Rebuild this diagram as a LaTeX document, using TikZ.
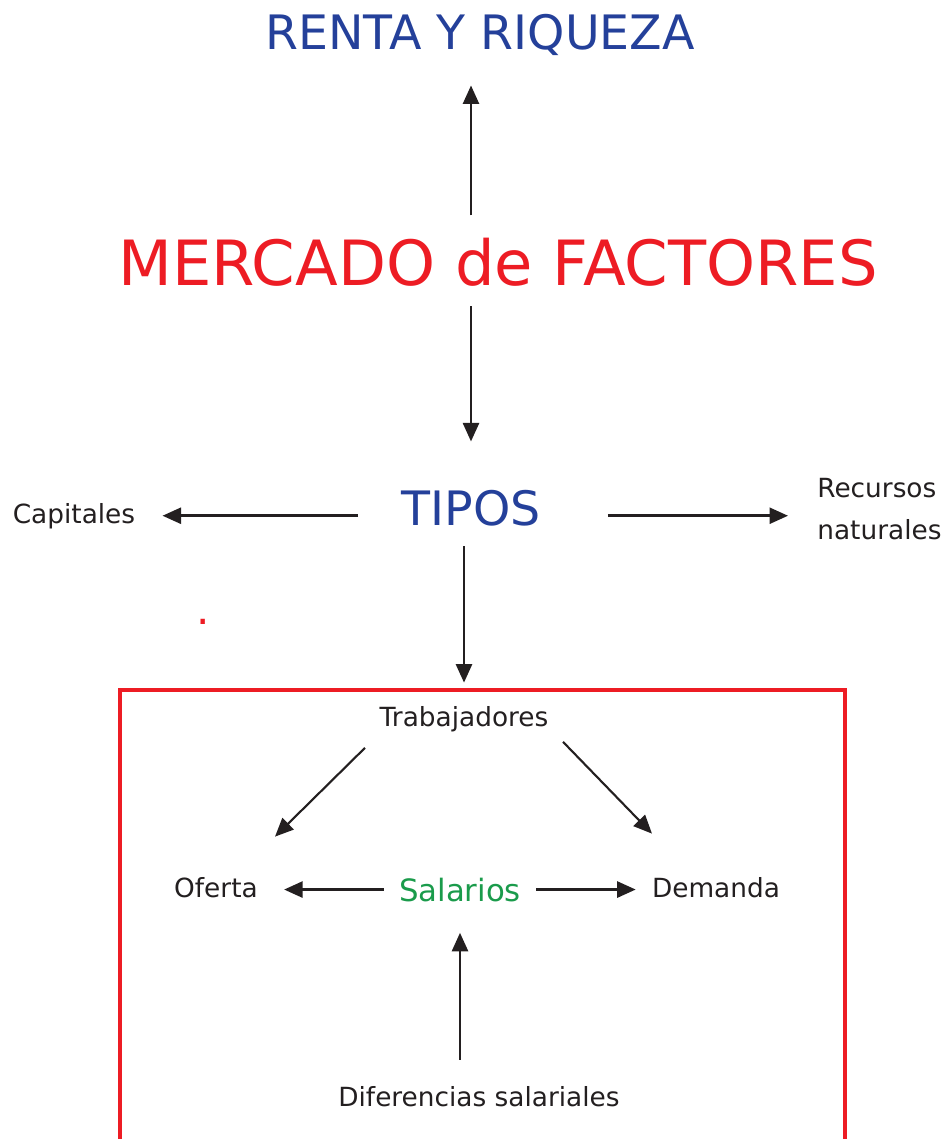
\documentclass[tikz,border=0pt]{standalone}
\usepackage{fontspec}
\setmainfont{DejaVu Sans}
\usetikzlibrary{arrows.meta, positioning, calc}
\definecolor{mfRed}{HTML}{ED1C24}
\definecolor{mfBlue}{HTML}{24409A}
\definecolor{mfGreen}{HTML}{1A9B4B}
\definecolor{mfText}{HTML}{231F20}

\begin{document}
\begin{tikzpicture}[x=0.02cm, y=-0.02cm,
    lbl/.style={inner sep=0pt, anchor=base, text=mfText,
                font=\fontsize{15}{24}\selectfont},
    bluelbl/.style={inner sep=0pt, anchor=base, text=mfBlue,
                    font=\fontsize{27}{32}\selectfont},
    arr/.style={-{Triangle[length=0.37cm, width=0.32cm]}, line width=1.45pt,
                draw=mfText},
  ]
    \useasboundingbox (0,0) rectangle (947,1139);

    % ─── Top: market and income ───
    \node[bluelbl] (renta) at (480, 50) {RENTA Y RIQUEZA};
    \node[inner sep=0pt, anchor=base, text=mfRed,
          font=\fontsize{35.5}{42}\selectfont] (mercado) at (498, 285)
      {MERCADO de FACTORES};
    \draw[arr, shorten <=0.44cm, shorten >=0.58cm]
      (mercado.north -| 471,0) -- (renta.south -| 471,0);

    % ─── Types of factors ───
    \node[bluelbl] (tipos) at (471, 525) {TIPOS};
    \draw[arr, shorten <=0.4cm, shorten >=0.96cm]
      (mercado.south -| tipos) -- (tipos.north);
    \node[lbl] (cap) at (74, 523) {Capitales};
    \node[lbl, anchor=west, align=left] (recursos) at (817, 509)
      {Recursos\\naturales};
    \draw[arr, shorten <=0.86cm, shorten >=0.54cm]
      (tipos.west |- cap.east) -- (cap.east);
    \draw[arr, shorten <=1.34cm, shorten >=0.58cm]
      (tipos.east |- cap.east) -- (recursos.west |- cap.east);
    \node[inner sep=0pt, anchor=base, text=mfRed,
          font=\fontsize{24}{28}\selectfont] (punto) at (203, 624) {.};

    % ─── Labour box ───
    \draw[mfRed, line width=2.4pt]
      (120, 1145) -- (120, 690) -- (845, 690) -- (845, 1145);
    \node[lbl] (trab) at (464, 726) {Trabajadores};
    \draw[arr, shorten <=0.4cm, shorten >=0.46cm]
      (tipos.south -| trab) -- (trab.north);

    \node[lbl] (oferta) at (216, 897) {Oferta};
    \node[lbl] (demanda) at (716, 897) {Demanda};
    \node[inner sep=0pt, anchor=base, text=mfGreen,
          font=\fontsize{17.5}{21}\selectfont] (sal) at (460, 901) {Salarios};
    \node[lbl] (dif) at (479, 1106) {Diferencias salariales};

    \draw[arr, line width=1.2pt]
      ([shift={(-99,16)}]trab.south) -- ([shift={(59,-40)}]oferta.north);
    \draw[arr, line width=1.2pt]
      ([shift={(99,10)}]trab.south) -- ([shift={(-64,-43)}]demanda.north);
    \draw[arr, shorten <=0.3cm, shorten >=0.52cm]
      (sal.west) -- (sal.west -| oferta.east);
    \draw[arr, shorten <=0.3cm, shorten >=0.32cm]
      (sal.east) -- (sal.east -| demanda.west);
    \draw[arr, shorten <=0.52cm, shorten >=0.62cm]
      (dif.north -| sal) -- (sal.south);
  \end{tikzpicture}
\end{document}
